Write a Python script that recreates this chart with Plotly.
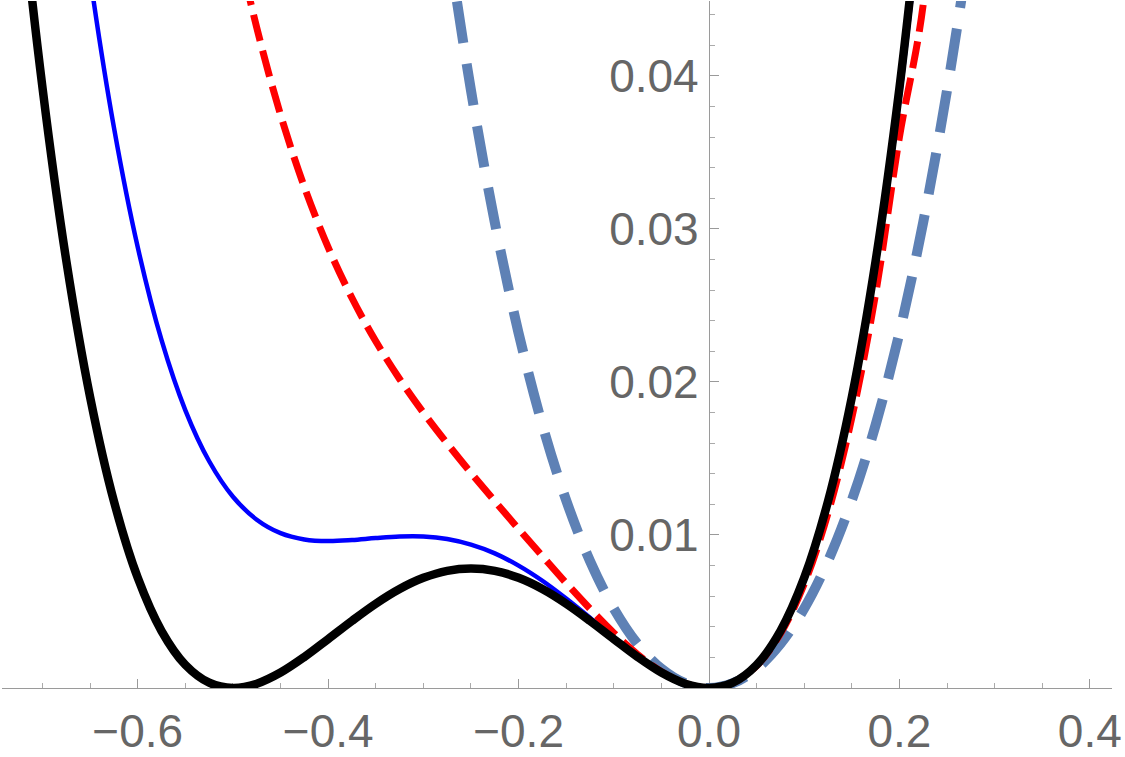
import plotly.graph_objects as go

x_black = [-0.75, -0.725, -0.7, -0.675, -0.65, -0.625, -0.6, -0.575, -0.55, -0.525, -0.5,
           -0.475, -0.45, -0.425, -0.4, -0.375, -0.35, -0.325, -0.3, -0.275, -0.25,
           -0.225, -0.2, -0.175, -0.15, -0.125, -0.1, -0.075, -0.05, -0.025, 0.0,
           0.025, 0.05, 0.075, 0.1, 0.125, 0.15, 0.175, 0.2, 0.225]
y_black = [0.0703, 0.0532, 0.0392, 0.0279, 0.0190, 0.0122, 0.0072, 0.00372, 0.00151, 0.000345, 0.0,
           0.000282, 0.00101, 0.00203, 0.0032, 0.00439, 0.00551, 0.00647, 0.0072, 0.00766, 0.00781,
           0.00766, 0.0072, 0.00647, 0.00551, 0.00439, 0.0032, 0.00203, 0.00101, 0.000282, 0.0,
           0.000345, 0.00151, 0.00372, 0.0072, 0.0122, 0.0190, 0.0279, 0.0392, 0.0532]

x_blue = [-0.675, -0.65, -0.625, -0.6, -0.575, -0.55, -0.525, -0.5, -0.475, -0.45, -0.425,
          -0.4, -0.375, -0.35, -0.325, -0.3, -0.275, -0.25, -0.225, -0.2, -0.175, -0.15,
          -0.125, -0.1, -0.075, -0.05, -0.025, 0.0, 0.025, 0.05, 0.075, 0.1, 0.125, 0.15,
          0.175, 0.2, 0.225]
y_blue = [0.05866, 0.04647, 0.03662, 0.0288, 0.02273, 0.01815, 0.01482, 0.0125, 0.0110, 0.01012, 0.00971,
          0.0096, 0.00967, 0.00980, 0.00990, 0.0099, 0.00974, 0.00937, 0.00880, 0.0080, 0.00701, 0.00585,
          0.00459, 0.0033, 0.00207, 0.00103, 0.000284, 0.0, 0.000343, 0.0015, 0.00368, 0.0071, 0.01201, 0.01868,
          0.02737, 0.0384, 0.05208]

x_red = [-0.525, -0.5, -0.475, -0.45, -0.425, -0.4, -0.375, -0.35, -0.325, -0.3, -0.275,
         -0.25, -0.225, -0.2, -0.175, -0.15, -0.125, -0.1, -0.075, -0.05, -0.025, 0.0,
         0.025, 0.05, 0.075, 0.1, 0.125, 0.15, 0.175, 0.2, 0.225, 0.25]
y_red = [0.05823, 0.05, 0.04315, 0.03746, 0.03274, 0.0288, 0.02549, 0.02266, 0.02020, 0.018, 0.01598,
         0.01406, 0.01221, 0.0104, 0.00862, 0.00686, 0.00518, 0.0036, 0.0022, 0.00106, 0.000289, 0.0,
         0.000339, 0.00146, 0.00355, 0.0068, 0.01143, 0.01766, 0.02576, 0.036, 0.04467, 0.06406]

x_steel = [-0.3, -0.275, -0.25, -0.225, -0.2, -0.175, -0.15, -0.125, -0.1, -0.075, -0.05, -0.025,
           0.0, 0.025, 0.05, 0.075, 0.1, 0.125, 0.15, 0.175, 0.2, 0.225, 0.25, 0.275, 0.3]
y_steel = [0.0612, 0.04925, 0.03906, 0.03044, 0.0232, 0.01719, 0.01226, 0.0083, 0.0052, 0.00288, 0.00126, 0.000313,
           0.0, 0.000313, 0.00126, 0.00288, 0.0052, 0.0083, 0.01226, 0.01719, 0.0232, 0.03044, 0.03906, 0.04925, 0.0612]

y_tick_vals = [0.01, 0.02, 0.03, 0.04]
y_tick_text = ["0.01", "0.02", "0.03", "0.04"]
x_tick_vals = [-0.6, -0.4, -0.2, 0.0, 0.2, 0.4]
x_tick_text = ["\u22120.6", "\u22120.4", "\u22120.2", "0.0", "0.2", "0.4"]

fig = go.Figure()
fig.add_trace(go.Scatter(x=x_steel, y=y_steel, mode="lines", line_shape="spline",
                         line=dict(color="#5E81B5", width=10, dash="42px,21px")))
fig.add_trace(go.Scatter(x=x_blue, y=y_blue, mode="lines", line_shape="spline",
                         line=dict(color="#0000FF", width=4.5)))
fig.add_trace(go.Scatter(x=x_red, y=y_red, mode="lines", line_shape="spline",
                         line=dict(color="#FF0000", width=7, dash="27px,10px")))
fig.add_trace(go.Scatter(x=x_black, y=y_black, mode="lines", line_shape="spline",
                         line=dict(color="#000000", width=8.5)))

font = dict(family="Liberation Sans, Arial, sans-serif", size=46, color="#666666")
xmin, xmax = -0.7426, 0.4233
l, r = 2, 13
ypos = (0 - xmin) / (xmax - xmin)

fig.update_layout(
    width=1125, height=757,
    margin=dict(l=l, r=r, t=1, b=69, pad=0),
    paper_bgcolor="white", plot_bgcolor="white",
    showlegend=False,
    xaxis=dict(range=[xmin, xmax], showgrid=False, zeroline=False,
               showline=True, linecolor="#9a9a9a", linewidth=1.2, layer="below traces",
               tickmode="array", tickvals=x_tick_vals, ticktext=x_tick_text,
               ticks="inside", ticklen=9, tickwidth=1, tickcolor="#9a9a9a",
               tickfont=font, ticklabelstandoff=3,
               minor=dict(dtick=0.05, tick0=0, ticks="inside", ticklen=5, tickwidth=1, tickcolor="#aaaaaa"),
               automargin=False, fixedrange=True),
    yaxis=dict(range=[0, 0.0449], showgrid=False, zeroline=False,
               anchor="free", position=ypos, side="left",
               showline=True, linecolor="#9a9a9a", linewidth=1.2, layer="below traces",
               tickmode="array", tickvals=y_tick_vals, ticktext=y_tick_text,
               ticks="inside", ticklen=9, tickwidth=1, tickcolor="#9a9a9a",
               tickfont=font, ticklabelstandoff=1,
               minor=dict(dtick=0.002, tick0=0, ticks="inside", ticklen=5, tickwidth=1, tickcolor="#aaaaaa"),
               automargin=False, fixedrange=True),
)

fig.write_html("out.html")
